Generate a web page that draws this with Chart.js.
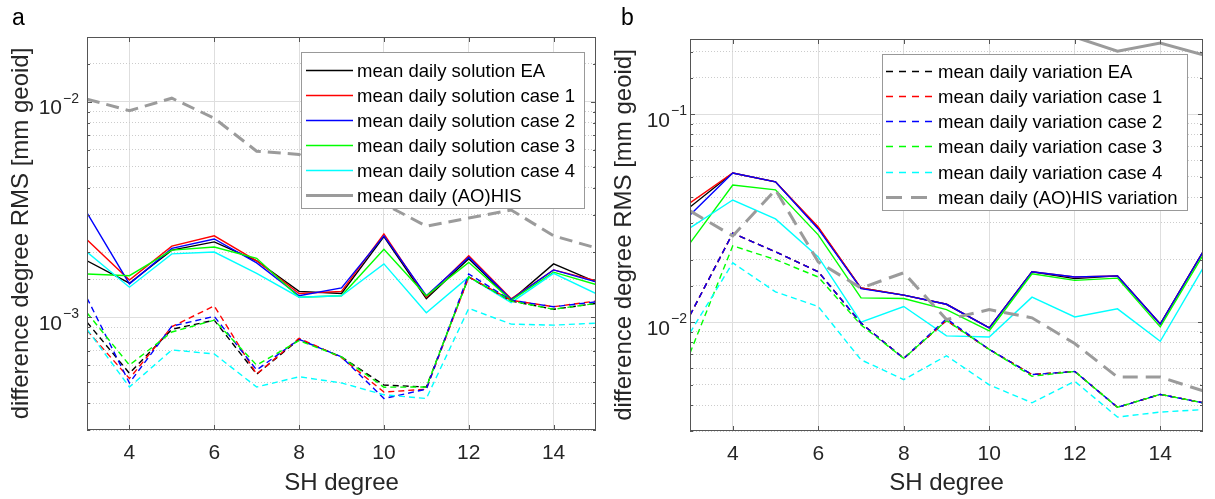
<!DOCTYPE html>
<html>
<head>
<meta charset="utf-8">
<script src="https://cdn.jsdelivr.net/npm/chart.js@4.4.1/dist/chart.umd.min.js"></script>
<style>
  html, body { margin: 0; padding: 0; background: #fff; }
  #wrap { position: relative; width: 1215px; height: 499px; overflow: hidden; font-family: "Liberation Sans", Arial, sans-serif; }
  canvas { position: absolute; top: 0; }
  #chartA { left: 0; }
  #chartB { left: 607px; }
  .panel-label { position: absolute; font-size: 23px; line-height: 1; color: #000; }
</style>
</head>
<body>
<div id="wrap">
  <canvas id="chartA" width="607" height="499"></canvas>
  <canvas id="chartB" width="608" height="499"></canvas>
  <div class="panel-label" style="left:12px; top:6px">a</div>
  <div class="panel-label" style="left:621px; top:6px">b</div>
</div>
<script>
// SH degrees and axis labels
const degrees = [3, 4, 5, 6, 7, 8, 9, 10, 11, 12, 13, 14, 15];
const xTickLabels = [4, 6, 8, 10, 12, 14];
const yExpA = [-3, -2];
const yExpB = [-2, -1];

// panel a - mean daily solutions (solid)
const aSolEA = [1.83e-3, 1.44e-3, 2.05e-3, 2.24e-3, 1.83e-3, 1.32e-3, 1.29e-3, 2.37e-3, 1.22e-3, 1.87e-3, 1.20e-3, 1.77e-3, 1.46e-3];
const aSol1  = [2.29e-3, 1.49e-3, 2.14e-3, 2.39e-3, 1.83e-3, 1.29e-3, 1.32e-3, 2.44e-3, 1.24e-3, 1.93e-3, 1.22e-3, 1.66e-3, 1.48e-3];
const aSol2  = [3.05e-3, 1.43e-3, 2.09e-3, 2.31e-3, 1.79e-3, 1.26e-3, 1.37e-3, 2.39e-3, 1.26e-3, 1.90e-3, 1.21e-3, 1.66e-3, 1.46e-3];
const aSol3  = [1.59e-3, 1.56e-3, 2.05e-3, 2.12e-3, 1.88e-3, 1.24e-3, 1.26e-3, 2.07e-3, 1.26e-3, 1.80e-3, 1.20e-3, 1.62e-3, 1.42e-3];
const aSol4  = [2.01e-3, 1.38e-3, 1.97e-3, 2.01e-3, 1.60e-3, 1.24e-3, 1.26e-3, 1.77e-3, 1.05e-3, 1.54e-3, 1.17e-3, 1.60e-3, 1.29e-3];
// panel a - dashed
const aVarEA = [9.5e-4, 5.5e-4, 8.8e-4, 9.7e-4, 5.45e-4, 7.9e-4, 6.55e-4, 4.85e-4, 4.75e-4, 1.54e-3, 1.19e-3, 1.09e-3, 1.16e-3];
const aVar1  = [8.7e-4, 5.2e-4, 9.05e-4, 1.13e-3, 5.45e-4, 8.0e-4, 6.5e-4, 4.5e-4, 4.64e-4, 1.54e-3, 1.20e-3, 1.12e-3, 1.19e-3];
const aVar2  = [1.23e-3, 4.96e-4, 9.1e-4, 1.01e-3, 5.7e-4, 7.9e-4, 6.55e-4, 4.2e-4, 4.64e-4, 1.59e-3, 1.20e-3, 1.12e-3, 1.18e-3];
const aVar3  = [1.05e-3, 6.0e-4, 8.55e-4, 9.7e-4, 6.0e-4, 7.8e-4, 6.55e-4, 4.74e-4, 4.75e-4, 1.54e-3, 1.19e-3, 1.09e-3, 1.16e-3];
const aVar4  = [8.8e-4, 4.75e-4, 7.06e-4, 6.76e-4, 4.75e-4, 5.3e-4, 4.96e-4, 4.37e-4, 4.2e-4, 1.10e-3, 9.3e-4, 9.2e-4, 9.4e-4];
const aHis   = [1.03e-2, 9.1e-3, 1.04e-2, 8.4e-3, 5.9e-3, 5.7e-3, 4.4e-3, 3.36e-3, 2.65e-3, 2.89e-3, 3.15e-3, 2.39e-3, 2.10e-3];

// panel b - solid
const bSolEA = [0.0358, 0.0522, 0.0473, 0.0284, 0.0146, 0.0135, 0.0122, 0.0094, 0.0175, 0.0162, 0.0167, 0.0098, 0.0218];
const bSol1  = [0.0375, 0.0522, 0.0473, 0.0287, 0.0146, 0.0135, 0.0122, 0.0094, 0.0175, 0.0165, 0.0167, 0.0098, 0.0218];
const bSol2  = [0.0328, 0.0522, 0.0473, 0.0281, 0.0145, 0.0135, 0.0122, 0.0094, 0.0175, 0.0165, 0.0167, 0.0098, 0.0218];
const bSol3  = [0.0240, 0.0457, 0.0433, 0.0263, 0.0131, 0.0130, 0.0115, 0.0091, 0.0171, 0.0159, 0.0163, 0.0095, 0.0210];
const bSol4  = [0.0284, 0.0387, 0.0314, 0.0206, 0.0100, 0.0119, 0.0086, 0.0085, 0.0132, 0.0106, 0.0116, 0.0081, 0.0182];
const bHis   = [null, null, null, null, null, null, null, null, null, 0.235, 0.201, 0.220, 0.193];
// panel b - mean daily variations (dashed)
const bVarEA = [0.0108, 0.0268, 0.0218, 0.0175, 0.0099, 0.0067, 0.0102, 0.0074, 0.0056, 0.0058, 0.0039, 0.0045, 0.0041];
const bVar1  = [0.0108, 0.0268, 0.0218, 0.0175, 0.0099, 0.0067, 0.0102, 0.0074, 0.0056, 0.0058, 0.0039, 0.0045, 0.0041];
const bVar2  = [0.0108, 0.0268, 0.0218, 0.0175, 0.0099, 0.0067, 0.0104, 0.0074, 0.0056, 0.0058, 0.0039, 0.0045, 0.0041];
const bVar3  = [0.0071, 0.0233, 0.0200, 0.0165, 0.0097, 0.0067, 0.0102, 0.0074, 0.0055, 0.0058, 0.0039, 0.0045, 0.0041];
const bVar4  = [0.0089, 0.0193, 0.0140, 0.0119, 0.0066, 0.0053, 0.0069, 0.0050, 0.0041, 0.0052, 0.0035, 0.0037, 0.0038];
const bHisVar = [0.0343, 0.0260, 0.0433, 0.0195, 0.0146, 0.0173, 0.0103, 0.0115, 0.0105, 0.0079, 0.00545, 0.00545, 0.00468];

const legendA = ['mean daily solution EA', 'mean daily solution case 1', 'mean daily solution case 2',
  'mean daily solution case 3', 'mean daily solution case 4', 'mean daily (AO)HIS'];
const legendB = ['mean daily variation EA', 'mean daily variation case 1', 'mean daily variation case 2',
  'mean daily variation case 3', 'mean daily variation case 4', 'mean daily (AO)HIS variation'];

const FONT = '"Liberation Sans", Arial, sans-serif';
const TEXT = '#262626';
const AXIS = '#555555';
const GRID = '#dedede';
const MINOR = '#cccccc';
const NONE = 'rgba(0,0,0,0)';
const COLORS = ['#000000', '#ff0000', '#0000ff', '#00ff00', '#00ffff'];
const GREY = '#9b9b9b';
const DASH = [6, 4];

function isDecade(v) {
  if (!v) return false;
  const l = Math.log10(v);
  return Math.abs(l - Math.round(l)) < 1e-6;
}

function line(label, values, color, extra) {
  return Object.assign({
    label: label,
    data: values.map((v, i) => ({ x: degrees[i], y: v })),
    borderColor: color,
    backgroundColor: color,
    borderWidth: 1.4,
    pointRadius: 0,
    tension: 0,
    fill: false
  }, extra || {});
}

// frame, inward ticks, 10^n labels and the boxed legend (MATLAB look)
const matlabAxes = {
  id: 'matlabAxes',
  afterDraw(chart, args, o) {
    const { ctx, chartArea: a } = chart;
    const x = chart.scales.x, y = chart.scales.y;
    ctx.save();
    ctx.strokeStyle = AXIS;
    ctx.lineWidth = 1;
    ctx.setLineDash([]);
    ctx.beginPath();
    x.ticks.forEach(t => {
      if (!xTickLabels.includes(t.value)) return;
      const px = Math.round(x.getPixelForValue(t.value)) + 0.5;
      ctx.moveTo(px, a.bottom); ctx.lineTo(px, a.bottom - 5);
      ctx.moveTo(px, a.top); ctx.lineTo(px, a.top + 5);
    });
    y.ticks.forEach(t => {
      const len = isDecade(t.value) ? 5 : 3;
      const py = Math.round(y.getPixelForValue(t.value)) + 0.5;
      ctx.moveTo(a.left, py); ctx.lineTo(a.left + len, py);
      ctx.moveTo(a.right, py); ctx.lineTo(a.right - len, py);
    });
    ctx.stroke();
    ctx.strokeRect(Math.round(a.left) + 0.5, Math.round(a.top) + 0.5, Math.round(a.width) - 1, Math.round(a.height) - 1);

    // decade labels 10^n
    ctx.fillStyle = TEXT;
    ctx.textAlign = 'right';
    ctx.textBaseline = 'alphabetic';
    o.exps.forEach(e => {
      const py = y.getPixelForValue(Math.pow(10, e));
      const right = a.left - o.labelGap;
      const expText = '\u2212' + Math.abs(e);
      ctx.font = '14px ' + FONT;
      ctx.fillText(expText, right, py + 1);
      const w = ctx.measureText(expText).width;
      ctx.font = '21px ' + FONT;
      ctx.fillText('10', right - w - 1, py + 12.5);
    });

    // legend box
    const L = o.legend;
    ctx.fillStyle = '#ffffff';
    ctx.fillRect(L.x, L.y, L.w, L.h);
    ctx.strokeStyle = '#999999';
    ctx.strokeRect(L.x + 0.5, L.y + 0.5, L.w, L.h);
    L.items.forEach((it, i) => {
      const cy = Math.round(L.row0 + i * L.step) + 0.5;
      ctx.beginPath();
      ctx.setLineDash(it.dash);
      ctx.strokeStyle = it.color;
      ctx.lineWidth = it.width;
      ctx.moveTo(L.line[0], cy);
      ctx.lineTo(L.line[1], cy);
      ctx.stroke();
      ctx.setLineDash([]);
      ctx.fillStyle = '#000000';
      ctx.font = '18.5px ' + FONT;
      ctx.textAlign = 'left';
      ctx.textBaseline = 'middle';
      ctx.fillText(it.label, L.textX, cy + 1);
    });
    ctx.restore();
  }
};

function makeOptions(p) {
  return {
    responsive: false,
    animation: false,
    events: [],
    layout: { padding: { top: p.top, right: p.right, left: 0, bottom: 0 } },
    plugins: {
      legend: { display: false },
      tooltip: { enabled: false },
      matlabAxes: p.axes
    },
    scales: {
      x: {
        type: 'linear', min: 3, max: 15,
        ticks: {
          stepSize: 1, autoSkip: false, maxRotation: 0, padding: 11,
          color: TEXT, font: { family: FONT, size: 21 },
          callback: v => xTickLabels.includes(v) ? String(v) : ''
        },
        grid: { drawTicks: false, color: c => (c.tick && xTickLabels.includes(c.tick.value)) ? GRID : NONE },
        border: { display: false },
        title: { display: true, text: 'SH degree', color: TEXT, font: { family: FONT, size: 24 }, padding: { top: 0, bottom: 1 } },
        afterFit: s => { s.height = p.xHeight; }
      },
      y: {
        type: 'logarithmic', position: 'left', min: p.min, max: p.max,
        ticks: { display: false },
        grid: { drawTicks: false, color: c => (c.tick && isDecade(c.tick.value)) ? GRID : NONE },
        border: { display: false },
        title: {
          display: true, text: 'difference degree RMS [mm geoid]', color: TEXT,
          font: { family: FONT, size: 24 }, padding: { top: p.yTitlePad, bottom: 0 }
        },
        afterFit: s => { s.width = p.yWidth; }
      },
      yMinor: {
        type: 'logarithmic', position: 'left', min: p.min, max: p.max,
        ticks: { display: false },
        grid: { drawTicks: false, color: c => (c.tick && !isDecade(c.tick.value)) ? MINOR : NONE },
        border: { display: false, dash: [1, 2] },
        afterFit: s => { s.width = 0; }
      }
    }
  };
}

const solidA = [aSolEA, aSol1, aSol2, aSol3, aSol4];
const dashedA = [aVarEA, aVar1, aVar2, aVar3, aVar4];
const solidB = [bSolEA, bSol1, bSol2, bSol3, bSol4];
const dashedB = [bVarEA, bVar1, bVar2, bVar3, bVar4];

// listed in plotting order (later = on top, like MATLAB); Chart.js draws the first dataset on top, so reverse
const datasetsA = []
  .concat(solidA.map((s, i) => line(legendA[i], s, COLORS[i])))
  .concat(dashedA.map((s, i) => line('variation ' + i, s, COLORS[i], { borderDash: DASH })))
  .concat([line('(AO)HIS', aHis, GREY, { borderWidth: 3, borderDash: [13, 7] })])
  .reverse();

const datasetsB = []
  .concat(solidB.map((s, i) => line('solution ' + i, s, COLORS[i])))
  .concat(dashedB.map((s, i) => line(legendB[i], s, COLORS[i], { borderDash: DASH })))
  .concat([line('(AO)HIS', bHis, GREY, { borderWidth: 3 }),
           line(legendB[5], bHisVar, GREY, { borderWidth: 3, borderDash: [15, 8] })])
  .reverse();

const itemsA = legendA.map((lab, i) => i < 5
  ? { label: lab, color: COLORS[i], width: 1.4, dash: [] }
  : { label: lab, color: GREY, width: 3, dash: [] });
const itemsB = legendB.map((lab, i) => i < 5
  ? { label: lab, color: COLORS[i], width: 1.4, dash: [7, 6] }
  : { label: lab, color: GREY, width: 3, dash: [16, 9] });

new Chart(document.getElementById('chartA'), {
  type: 'line',
  data: { datasets: datasetsA },
  options: makeOptions({
    top: 37, right: 7, xHeight: 69, yWidth: 87, yTitlePad: 7, min: 3e-4, max: 2e-2,
    axes: {
      exps: yExpA, labelGap: 8,
      legend: { x: 301, y: 52, w: 283, h: 156, row0: 70, step: 25, line: [306, 353], textX: 357, items: itemsA }
    }
  }),
  plugins: [matlabAxes]
});

new Chart(document.getElementById('chartB'), {
  type: 'line',
  data: { datasets: datasetsB },
  options: makeOptions({
    top: 39, right: 12, xHeight: 68, yWidth: 83, yTitlePad: 3, min: 3e-3, max: 0.23,
    axes: {
      exps: yExpB, labelGap: 3,
      legend: { x: 275, y: 54, w: 305, h: 156, row0: 70.5, step: 25.3, line: [279, 328], textX: 331, items: itemsB }
    }
  }),
  plugins: [matlabAxes]
});
</script>
</body>
</html>
